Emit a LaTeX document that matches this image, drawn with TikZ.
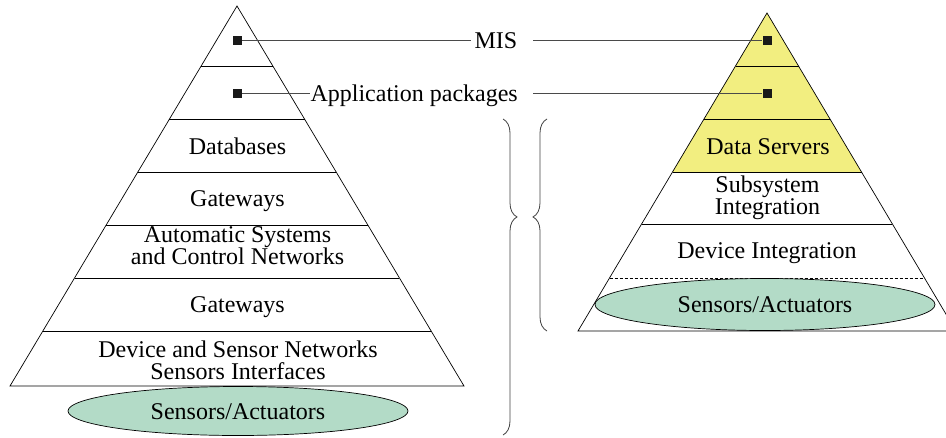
\documentclass[tikz,border=0pt]{standalone}
\usepackage{fontspec}
\setmainfont{Liberation Serif}
\usetikzlibrary{shapes.geometric,decorations.pathreplacing,calc}

\definecolor{layeryellow}{HTML}{F2EE80}
\definecolor{sensorgreen}{HTML}{B3DBC7}
\definecolor{leadgray}{HTML}{4A4A4A}

\pgfdeclarelayer{leads}
\pgfdeclarelayer{front}
\pgfsetlayers{main,leads,front}

\tikzset{
  edge/.style={draw=black, line width=0.7pt},
  txt/.style={font=\fontsize{24pt}{22pt}\selectfont},
  lbl/.style={txt, inner sep=0pt, text height=16pt, text depth=0pt},
  lbltwo/.style={txt, inner sep=0pt, align=center},
  sensor/.style={ellipse, draw=black, line width=0.7pt, fill=sensorgreen,
    inner sep=0pt, minimum width=340pt, minimum height=49pt,
    txt, text height=16pt, text depth=0pt},
  marker/.style={rectangle, fill=black!90, inner sep=0pt, minimum size=9pt},
  lead/.style={draw=leadgray, line width=0.9pt},
  curly/.style={draw=black!75, line width=0.8pt, decorate,
    decoration={brace, amplitude=14pt, aspect=#1}}
}

\begin{document}
\begin{tikzpicture}[x=1pt, y=-1pt]
\useasboundingbox (0,0) rectangle (946,437);
\clip (0,0) rectangle (946,437);

% ---------- left pyramid: full layered stack ----------
\coordinate (LA)  at (237,6);
\coordinate (LBL) at (10,386);
\coordinate (LBR) at (464,386);
\node[sensor] (lsens) at (238,411) {Sensors/Actuators};
\draw[edge] (LA) -- (LBL) -- (LBR) -- cycle;
\foreach \y in {66,119,172,225,278,331}
  \draw[edge] ($(LA)!{(\y-6)/380}!(LBL)$) -- ($(LA)!{(\y-6)/380}!(LBR)$);

\node[lbl] (ldb)  at (237.5,146)   {Databases};
\node[lbl] (lgw1) at (237.5,198.5) {Gateways};
\node[lbltwo] (lasc) at (237.5,246) {Automatic Systems\\and Control Networks};
\node[lbl] (lgw2) at (237.5,304.5) {Gateways};
\node[lbltwo] (ldsn) at (238,360) {Device and Sensor Networks\\Sensors Interfaces};

% ---------- right pyramid: integrated stack ----------
\coordinate (RA)  at (767,13);
\coordinate (RBL) at (578,331);
\coordinate (RBR) at (956,331);
\fill[layeryellow] (RA) -- ($(RA)!0.5!(RBL)$) -- ($(RA)!0.5!(RBR)$) -- cycle;
\draw[edge, line width=0.5pt, dash pattern=on 3pt off 2pt]
  ($(RA)!{(278-13)/318}!(RBL)$) -- ($(RA)!{(278-13)/318}!(RBR)$);
\node[sensor, minimum height=52pt] (rsens) at (765,304.5) {Sensors/Actuators};
\draw[edge] (RA) -- (RBL) -- (RBR) -- cycle;
\foreach \y in {66,119,172,224}
  \draw[edge] ($(RA)!{(\y-13)/318}!(RBL)$) -- ($(RA)!{(\y-13)/318}!(RBR)$);

\node[lbl] (rds) at (768,146) {Data Servers};
\node[lbltwo] (rsub) at (767.5,198) {Subsystem\\Integration};
\node[lbl] (rdev) at (767,250) {Device Integration};

% ---------- shared upper layers and their leaders ----------
\node[lbl, anchor=east] (mis) at (517.5,40) {MIS};
\node[lbl, anchor=east] (app) at (518,93)   {Application packages};

\begin{pgfonlayer}{front}
\node[marker] (misL) at (237,40) {};
\node[marker] (appL) at (237,93) {};
\node[marker] (misR) at (767,40) {};
\node[marker] (appR) at (767,93) {};
\end{pgfonlayer}

\begin{pgfonlayer}{leads}
\draw[lead, shorten >=3pt] (misL) -- (mis.west);
\draw[lead] (appL) -- (app.west);
\draw[lead] ([xshift=15.5pt]mis.east) -- (misR);
\draw[lead] ([xshift=15pt]app.east) -- (appR);
\end{pgfonlayer}

% ---------- braces grouping the lower layers ----------
\coordinate (b1t) at (503,119);
\coordinate (b1b) at (503,435);
\coordinate (b2t) at (547,119);
\coordinate (b2b) at (547,331);
\draw[curly=0.31]  (b1t) -- (b1b);
\draw[curly=0.538] (b2b) -- (b2t);
\end{tikzpicture}
\end{document}
